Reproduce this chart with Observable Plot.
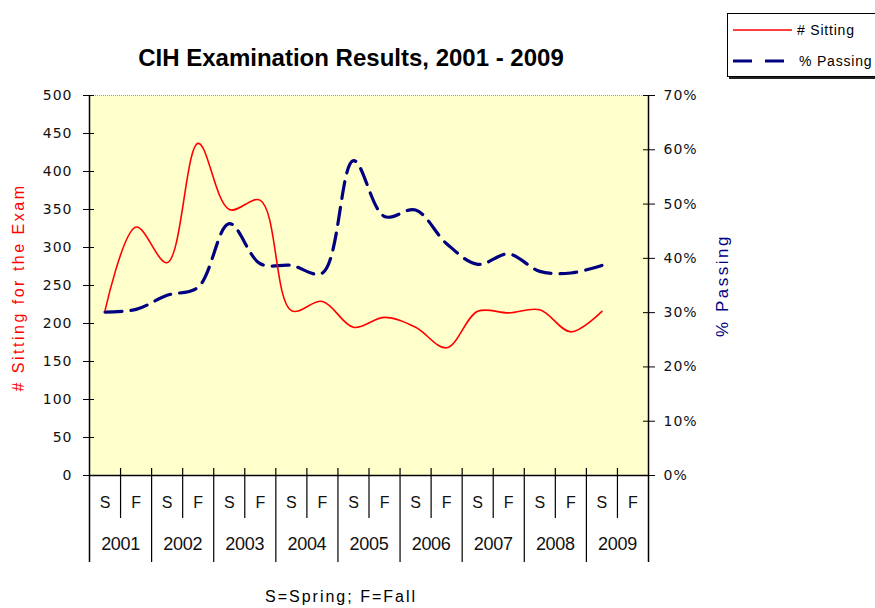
<!DOCTYPE html>
<html><head><meta charset="utf-8">
<script src="https://cdn.jsdelivr.net/npm/d3@7"></script>
<script src="https://cdn.jsdelivr.net/npm/@observablehq/plot@0.6"></script>
<style>
body{margin:0;background:#fff;font-family:"Liberation Sans",Arial,sans-serif;}
#wrap{position:relative;width:875px;height:608px;overflow:hidden;}
#chart{position:absolute;left:0;top:0;}
#title{position:absolute;left:0;width:702px;top:44px;text-align:center;font-weight:bold;font-size:24px;color:#000;line-height:28px;}
#foot{position:absolute;left:0;width:682px;top:588px;text-align:center;font-size:16px;letter-spacing:2px;color:#000;line-height:18px;}
#legend{position:absolute;left:727px;top:13px;width:150px;height:62px;border:1px solid #000;background:#fff;box-shadow:2px 2px 0 #222;}
#legend svg{position:absolute;left:0;top:0;}
#legend text{letter-spacing:0.8px;}
g[aria-label="y-axis tick label"] text{letter-spacing:1px;}
</style>
</head><body>
<div id="wrap">
<div id="chart"></div>
<div id="title">CIH Examination Results, 2001 - 2009</div>
<div id="foot">S=Spring; F=Fall</div>
<div id="legend"></div>
</div>
<script>
// ---- data ----
const seasons = ["S","F","S","F","S","F","S","F","S","F","S","F","S","F","S","F","S","F"];
const years = ["2001","2002","2003","2004","2005","2006","2007","2008","2009"];
const sitting = [217,327,280,437,350,362,217,229,195,208,195,168,216,214,218,189,216];
const passing = [30.1,30.6,33.2,34.7,46.4,39.0,38.7,37.3,58.0,47.7,48.9,42.7,38.9,40.8,37.6,37.3,38.7];
const leftTicks = [0,50,100,150,200,250,300,350,400,450,500];
const rightTicks = [0,10,20,30,40,50,60,70];
const seriesNames = ["# Sitting","% Passing"];
const leftTitle = "# Sitting for the Exam";
const rightTitle = "% Passing";

const RED = "#ff0000", NAVY = "#000080";
const PMAX = 70, YMAX = 500;
const toY = p => p * YMAX / PMAX;

const slots = seasons.map((s, i) => ({i, s}));
const sitData = sitting.map((v, i) => ({x: i + 0.5, v}));
const passData = passing.map((p, i) => ({x: i + 0.5, p}));
const yearData = years.map((y, i) => ({x: 2 * i + 1, y}));
const bounds = d3.range(0, seasons.length + 1);
const inner = bounds.filter(b => b % 2 === 1);
const yearB = bounds.filter(b => b % 2 === 0 && b > 0 && b < seasons.length);
const edges = [0, seasons.length];

const W = 875, H = 608, ML = 89, MR = 227, MT = 95, MB = 133;
const FH = H - MT - MB, FW = W - ML - MR;
const font = "Liberation Sans, Arial, sans-serif";
const tickFont = "DejaVu Sans, Verdana, sans-serif";

const chart = Plot.plot({
  width: W, height: H,
  marginLeft: ML, marginRight: MR, marginTop: MT, marginBottom: MB,
  style: {fontFamily: font, fontSize: "15px", color: "#000", background: "transparent"},
  x: {domain: [0, seasons.length], axis: null},
  y: {domain: [0, YMAX], axis: null},
  marks: [
    Plot.frame({fill: "#FFFFCC", stroke: null}),
    Plot.ruleY([YMAX], {stroke: "#999", strokeDasharray: "1,1"}),
    // left axis
    Plot.axisY({anchor: "left", ticks: leftTicks, tickSize: 6, tickPadding: 11, label: null, fontSize: 14, fontFamily: tickFont, fill: "#111"}),
    Plot.ruleY(leftTicks, {insetRight: FW - 5, stroke: "#000"}),
    // right axis
    Plot.axisY({anchor: "right", ticks: rightTicks.map(toY), tickSize: 6, tickPadding: 9, label: null, fontSize: 14, fontFamily: tickFont, fill: "#111",
      tickFormat: d => Math.round(d * PMAX / YMAX) + "%"}),
    Plot.ruleY(rightTicks.map(toY), {insetLeft: FW - 5, stroke: "#000"}),
    // axis titles
    Plot.text([leftTitle], {frameAnchor: "left", textAnchor: "middle", dx: -71, dy: 2, rotate: -90, fill: RED, fontSize: 16, text: d => d}),
    Plot.text([rightTitle], {frameAnchor: "right", textAnchor: "middle", dx: 74, dy: 0, rotate: -90, fill: NAVY, fontSize: 17, text: d => d}),
    // category axis
    Plot.ruleY([0], {stroke: "#000", strokeWidth: 1.5}),
    Plot.ruleX(edges, {x: d => d, stroke: "#000", strokeWidth: 1.5, insetBottom: -87}),
    Plot.ruleX(yearB, {x: d => d, stroke: "#000", strokeWidth: 1.2, insetTop: FH - 7, insetBottom: -87}),
    Plot.ruleX(inner, {x: d => d, stroke: "#000", strokeWidth: 1.2, insetTop: FH - 7, insetBottom: -43}),
    Plot.text(slots, {x: d => d.i + 0.5, text: "s", frameAnchor: "bottom", dy: 32, fontSize: 16, fill: "#111"}),
    Plot.text(yearData, {x: "x", text: "y", frameAnchor: "bottom", dy: 74, fontSize: 18, fill: "#111"}),
    // series
    Plot.line(passData, {x: "x", y: d => toY(d.p), stroke: NAVY, strokeWidth: 3.2, strokeDasharray: "17,9", curve: "catmull-rom"}),
    Plot.line(sitData, {x: "x", y: "v", stroke: RED, strokeWidth: 1.6, curve: "catmull-rom"})
  ]
});
document.getElementById("chart").appendChild(chart);

// letter spacing for axis titles and year labels
d3.select(chart).selectAll("text")
  .filter(function() { return this.textContent === leftTitle || this.textContent === rightTitle; })
  .style("letter-spacing", "2.5px");
d3.select(chart).selectAll("text")
  .filter(function() { return years.includes(this.textContent); })
  .style("letter-spacing", "-0.3px");

// legend
const lg = d3.select("#legend").append("svg").attr("width", 150).attr("height", 62);
lg.append("line").attr("x1", 5).attr("x2", 64).attr("y1", 16).attr("y2", 16).attr("stroke", RED).attr("stroke-width", 1.6);
lg.append("line").attr("x1", 5).attr("x2", 62).attr("y1", 47).attr("y2", 47).attr("stroke", NAVY).attr("stroke-width", 3.2).attr("stroke-dasharray", "19,13");
lg.append("text").attr("x", 69).attr("y", 21).attr("font-size", 14).attr("font-family", font).text(seriesNames[0]);
lg.append("text").attr("x", 71).attr("y", 52).attr("font-size", 14).attr("font-family", font).text(seriesNames[1]);
</script>
</body></html>
